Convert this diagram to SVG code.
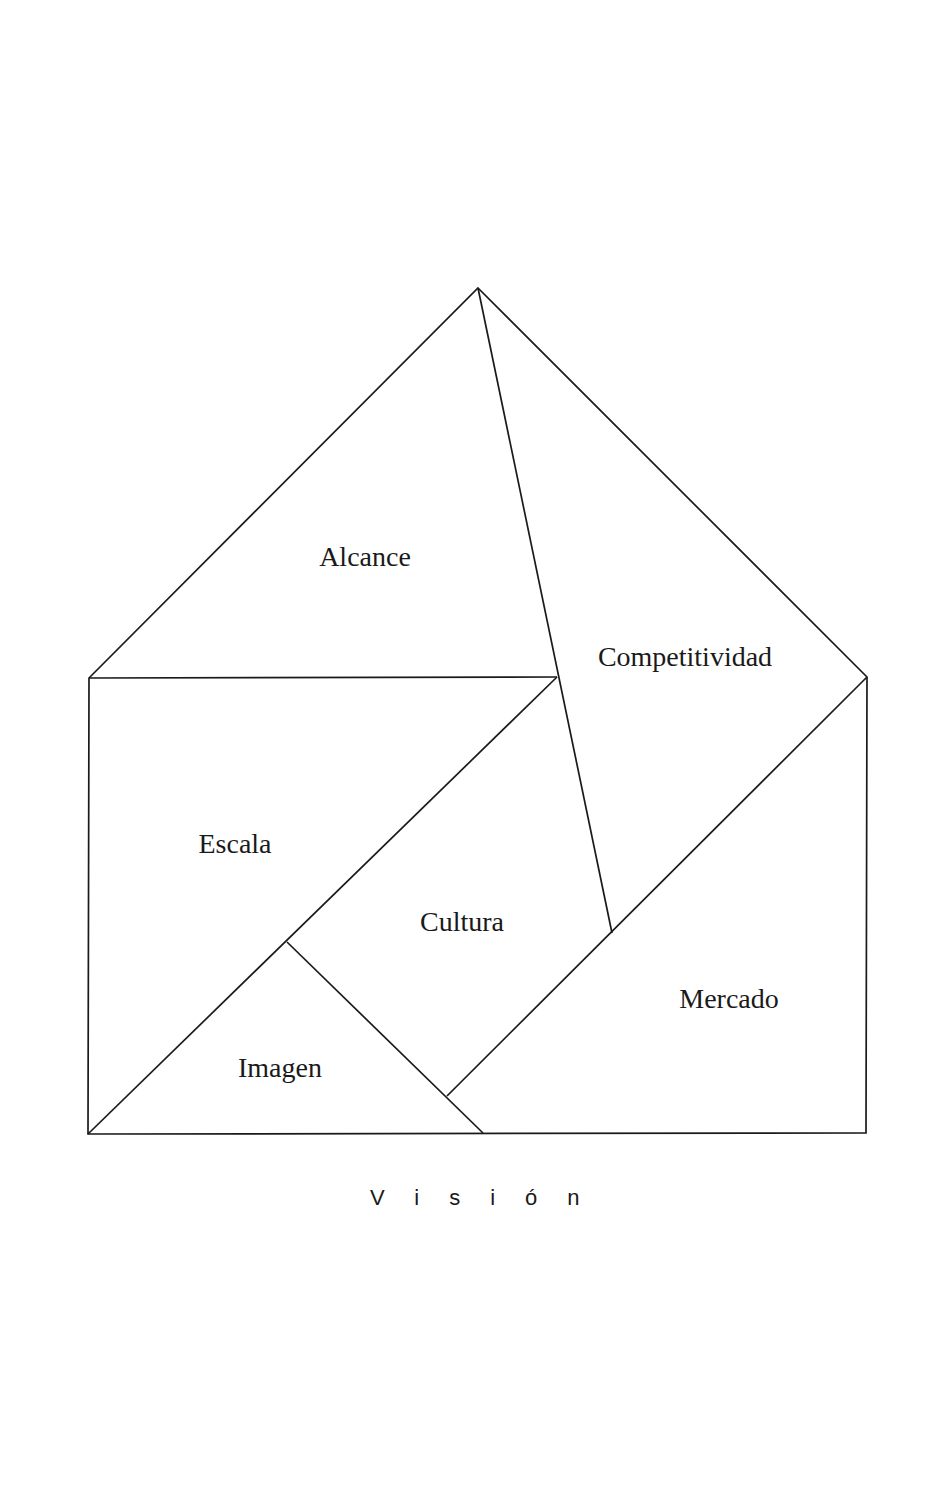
<svg xmlns="http://www.w3.org/2000/svg" width="944" height="1501" viewBox="0 0 944 1501">
<style>
.e{fill:none;stroke:#1a1a1a;stroke-width:1.7;stroke-linejoin:miter}
.l{font-family:"Liberation Serif",serif;font-size:28px;fill:#1a1a1a;text-anchor:middle}
.v{font-family:"Liberation Sans",sans-serif;font-size:22px;fill:#1a1a1a}
</style>
<rect width="944" height="1501" fill="#ffffff"/>
<g id="connectors">
<polygon class="e" points="478,288 867,677 866,1133 88,1134 89,678"/>
<line class="e" x1="89" y1="678" x2="557" y2="677"/>
<line class="e" x1="478" y1="288" x2="612" y2="933"/>
<line class="e" x1="557" y1="677" x2="88" y2="1134"/>
<line class="e" x1="287" y1="942" x2="483" y2="1133"/>
<line class="e" x1="867" y1="677" x2="447" y2="1096"/>
</g>
<g id="alcance"><text class="l" x="365" y="566">Alcance</text></g>
<g id="competitividad"><text class="l" x="685" y="666">Competitividad</text></g>
<g id="escala"><text class="l" x="235" y="853">Escala</text></g>
<g id="cultura"><text class="l" x="462" y="931">Cultura</text></g>
<g id="mercado"><text class="l" x="729" y="1008">Mercado</text></g>
<g id="imagen"><text class="l" x="280" y="1077">Imagen</text></g>
<g id="vision"><text class="v" x="370" y="1205" letter-spacing="30">Visión</text></g>
</svg>
